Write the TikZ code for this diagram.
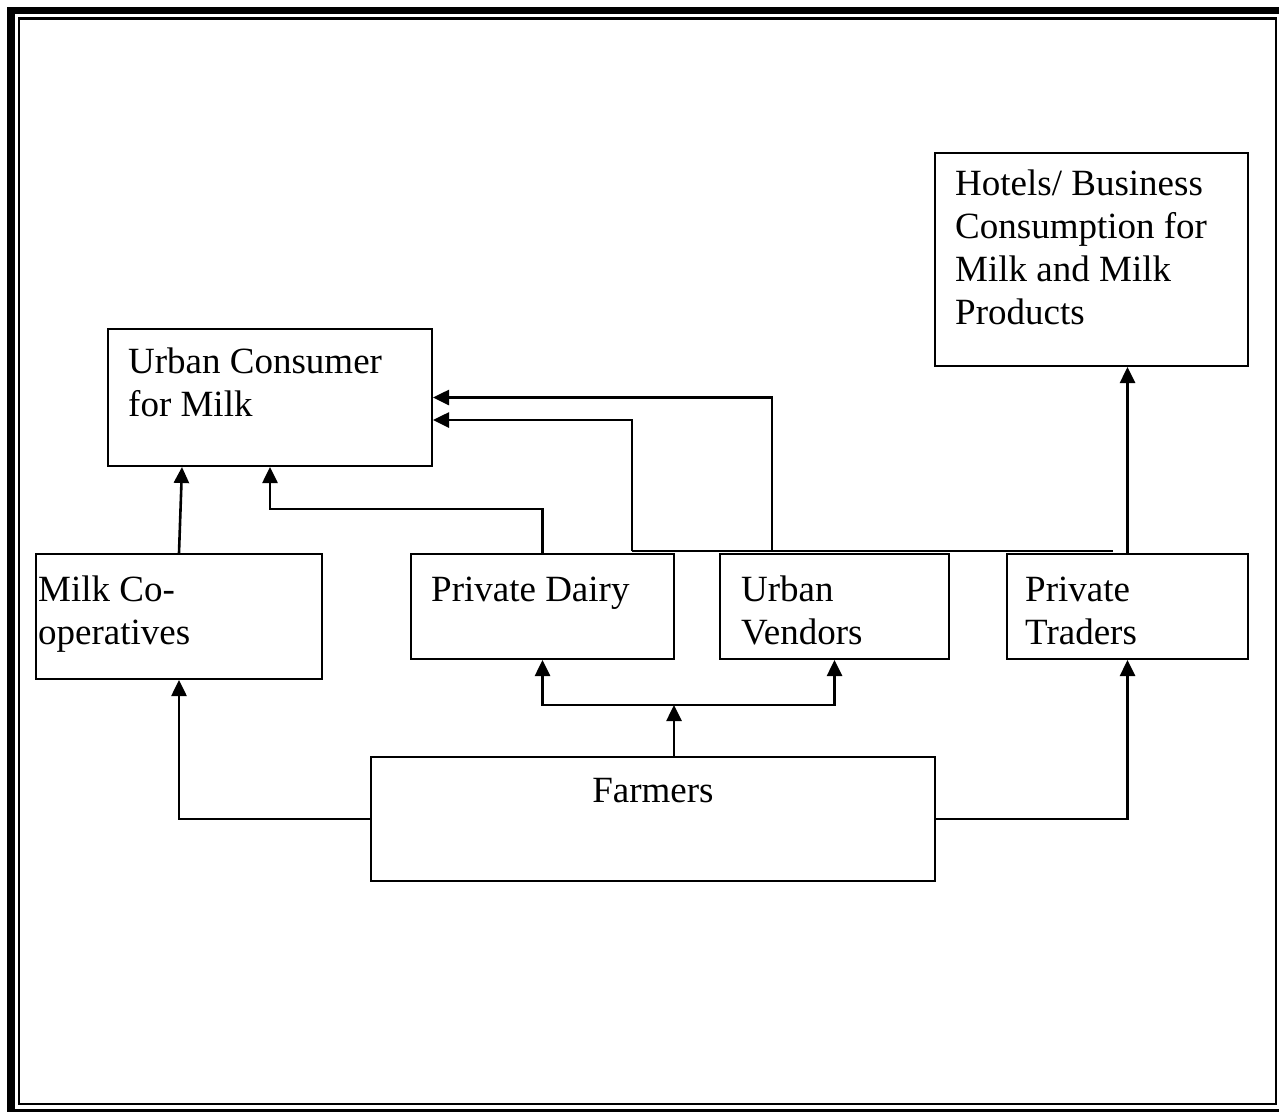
\documentclass[tikz,border=0pt]{standalone}
\usepackage{fontspec}
\setmainfont{Liberation Serif}
\usetikzlibrary{arrows.meta,calc}
\begin{document}
\begin{tikzpicture}[x=1pt,y=-1pt,
  >={Triangle[length=16pt,width=15pt]},
  box/.style={draw, line width=2pt, inner sep=0pt, anchor=north west, fill=white},
  txt/.style={anchor=north west, inner sep=0pt, align=left,
    font=\fontsize{37}{43}\selectfont},
  wire/.style={line width=2.6pt},
  conn/.style={wire, ->}]
\useasboundingbox (0,0) rectangle (1279,1111);

% page frame: thick outer band and thin inner rule
\draw[line width=7.5pt] (11,10.5) rectangle (1290,1113.2);
\draw[line width=2.2pt] (19,18.5) rectangle (1276,1104);

% boxes
\node[box, minimum width=313pt, minimum height=213pt] (hotel) at (934,152) {};
\node[box, minimum width=324pt, minimum height=137pt] (uc)    at (107,328) {};
\node[box, minimum width=286pt, minimum height=125pt] (coop)  at (35,553)  {};
\node[box, minimum width=263pt, minimum height=105pt] (dairy) at (410,553) {};
\node[box, minimum width=229pt, minimum height=105pt] (vend)  at (719,553) {};
\node[box, minimum width=241pt, minimum height=105pt] (trad)  at (1006,553) {};
\node[box, minimum width=564pt, minimum height=124pt] (farm)  at (370,756) {};

% box texts
\node[txt] (hotelT) at ($(hotel.north west)+(21,13)$)
  {\strut Hotels/ Business\\Consumption for\\Milk and Milk\\Products};
\node[txt] (ucT) at ($(uc.north west)+(21,15)$) {\strut Urban Consumer\\for Milk};
\node[txt] (coopT) at ($(coop.north west)+(3,18)$) {\strut Milk Co-\\operatives};
\node[txt] (dairyT) at ($(dairy.north west)+(21,18)$) {\strut Private Dairy};
\node[txt] (vendT) at ($(vend.north west)+(22,18)$) {\strut Urban\\Vendors};
\node[txt] (tradT) at ($(trad.north west)+(19,18)$) {\strut Private\\Traders};
\node[txt, anchor=north] (farmT) at ($(farm.north)+(0,16)$) {\strut Farmers};

% farmers to the first-level channels
\coordinate (split) at (674,705);
\draw[conn] (farm.west) -| (coop.south);
\draw[conn] (farm.east) -| (trad.south);
\draw[conn] (farm.north -| split) -- (split);
\draw[wire, <->] (dairy.south) -- (dairy.south |- split) -- (vend.south |- split) -- (vend.south);

% channels to the urban consumer
\draw[conn] (coop.north) -- ($(uc.south west)+(75,0)$);
\coordinate (dk) at ($(dairy.north)+(0,-44)$);
\draw[conn] (dairy.north) -- (dk) -| (uc.south);

\coordinate (busL) at (632,551);
\coordinate (busM) at (772,551);
\coordinate (busR) at (1113,551);
\draw[wire] (busL) -- (busR);
\draw[conn] (busL) |- ($(uc.east)+(0,22.5)$);
\draw[conn] (busM) |- (uc.east);

% private traders to hotels and businesses
\draw[conn] (trad.north) -- (trad.north |- hotel.south);
\end{tikzpicture}
\end{document}
